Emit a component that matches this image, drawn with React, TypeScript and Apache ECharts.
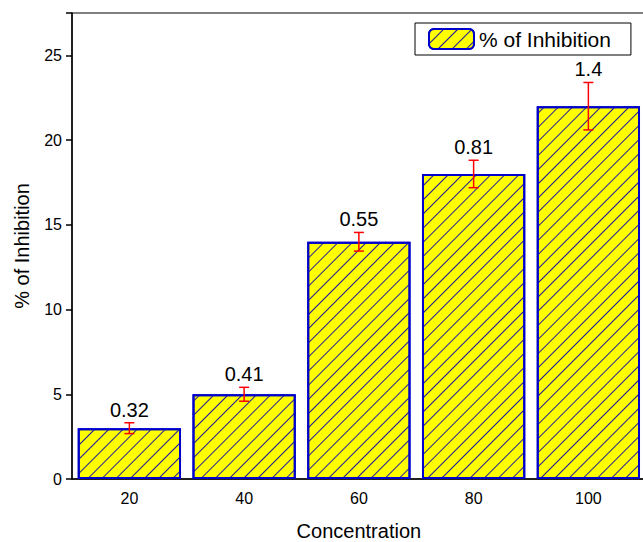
import React, { useEffect, useRef } from "react";
import * as echarts from "echarts";

const categories = ["20", "40", "60", "80", "100"];
const inhibition = [3, 5, 14, 18, 22];
const errors = [0.32, 0.41, 0.55, 0.81, 1.4];
const seriesName = "% of Inhibition";

export default function App() {
  const ref = useRef<HTMLDivElement>(null);
  useEffect(() => {
    if (!ref.current) return;
    const chart = echarts.init(ref.current, undefined, { renderer: "svg" });
    const font = "Liberation Sans, Arial, sans-serif";
    const errData = inhibition.map((v, i) => [i, v, errors[i]]);
    chart.setOption({
      animation: false,
      backgroundColor: "#ffffff",
      textStyle: { fontFamily: font },
      grid: {
        left: 72,
        top: 13,
        width: 573.75,
        bottom: 63,
        containLabel: false,
        outerBoundsMode: "none",
        show: true,
        borderColor: "#000",
        borderWidth: 1,
        backgroundColor: "transparent",
      },
      legend: {
        data: [seriesName],
        left: 415,
        top: 23,
        padding: [5, 20, 5, 13],
        itemWidth: 45,
        itemHeight: 20,
        itemGap: 0,
        borderColor: "#000",
        borderWidth: 1,
        backgroundColor: "#fff",
        textStyle: { fontSize: 21, color: "#000", fontFamily: font },
      },
      xAxis: {
        type: "category",
        data: categories,
        boundaryGap: true,
        name: "Concentration",
        nameLocation: "middle",
        nameGap: 42,
        nameTextStyle: { fontSize: 20, color: "#000", fontFamily: font },
        axisLine: { lineStyle: { color: "#000", width: 1.5 } },
        axisTick: { alignWithLabel: true, length: 6, lineStyle: { color: "#000", width: 1.5 } },
        axisLabel: { fontSize: 16, color: "#000", margin: 11, fontFamily: font },
        splitLine: { show: false },
      },
      yAxis: {
        type: "value",
        min: 0,
        max: 27.5,
        interval: 5,
        name: seriesName,
        nameLocation: "middle",
        nameGap: 40,
        nameTextStyle: { fontSize: 20, color: "#000", fontFamily: font },
        axisLine: { show: true, lineStyle: { color: "#000", width: 1.5 } },
        axisTick: { show: true, length: 6, lineStyle: { color: "#000", width: 1.5 } },
        axisLabel: {
          fontSize: 16,
          color: "#000",
          margin: 10,
          fontFamily: font,
          formatter: (v: number) => (v % 5 === 0 ? String(v) : ""),
        },
        splitLine: { show: false },
      },
      series: [
        {
          name: seriesName,
          type: "bar",
          data: inhibition,
          barWidth: "90%",
          itemStyle: {
            color: "#ffff00",
            borderColor: "#0000cc",
            borderWidth: 2,
            decal: {
              symbol: "rect",
              symbolSize: 1,
              color: "#1a1a99",
              dashArrayX: [1, 0],
              dashArrayY: [1, 9],
              rotation: -Math.PI / 4,
            },
          },
        },
        {
          type: "custom",
          name: "err",
          data: errData,
          z: 10,
          renderItem: (params: any, api: any) => {
            const i = api.value(0);
            const v = api.value(1);
            const e = api.value(2);
            const hi = api.coord([i, v + e]);
            const lo = api.coord([i, v - e]);
            const cap = 5;
            const style = { stroke: "#ff0000", lineWidth: 1.5 };
            return {
              type: "group",
              children: [
                { type: "line", shape: { x1: hi[0], y1: hi[1], x2: lo[0], y2: lo[1] }, style },
                { type: "line", shape: { x1: hi[0] - cap, y1: hi[1], x2: hi[0] + cap, y2: hi[1] }, style },
                { type: "line", shape: { x1: lo[0] - cap, y1: lo[1], x2: lo[0] + cap, y2: lo[1] }, style },
                {
                  type: "text",
                  x: hi[0],
                  y: hi[1] - 3,
                  style: {
                    text: String(e),
                    fill: "#000",
                    fontSize: 20,
                    fontFamily: font,
                    align: "center",
                    verticalAlign: "bottom",
                  },
                },
              ],
            };
          },
        },
      ],
    });
    return () => chart.dispose();
  }, []);
  return <div ref={ref} style={{ width: 643, height: 542, position: "absolute", left: 0, top: 0 }} />;
}
